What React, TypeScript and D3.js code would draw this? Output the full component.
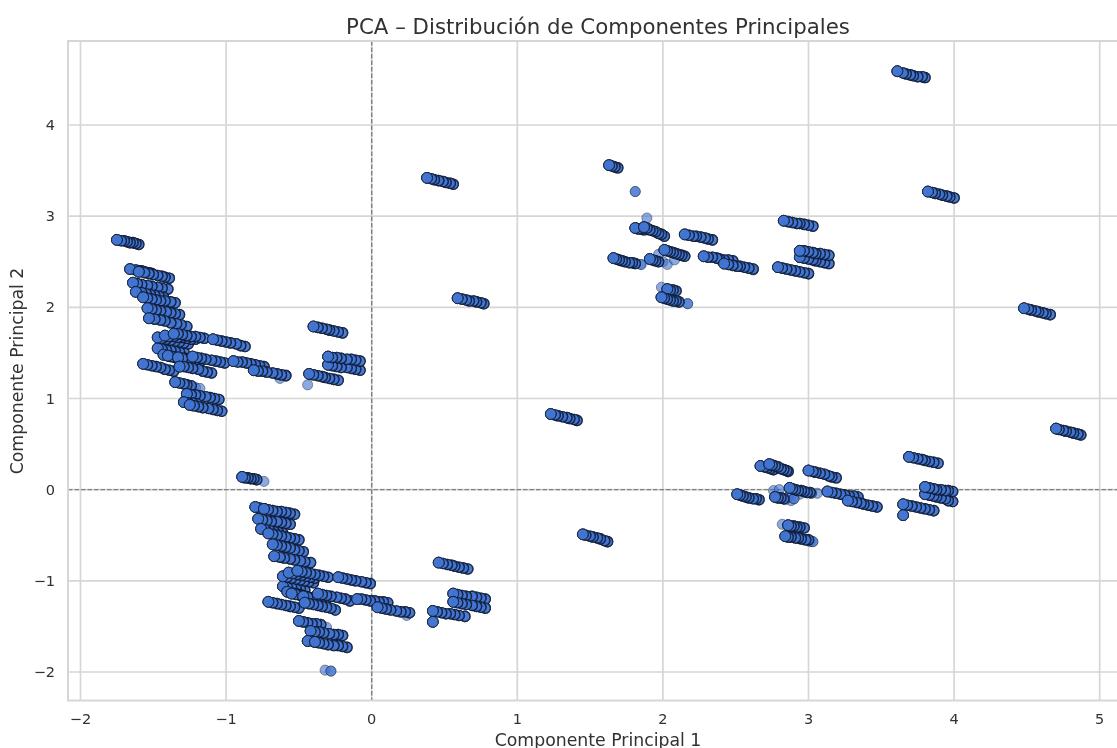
import React from "react";
import * as d3 from "d3";

type P = [number, number];

const titleText = "PCA – Distribución de Componentes Principales";
const xLabel = "Componente Principal 1";
const yLabel = "Componente Principal 2";
const xTicks = [-2, -1, 0, 1, 2, 3, 4, 5];
const yTicks = [-2, -1, 0, 1, 2, 3, 4];

const upperLeftRows: P[][] = [
  [[-1.75,2.74],[-1.72,2.73],[-1.70,2.73],[-1.68,2.72],[-1.66,2.71],[-1.64,2.71],[-1.62,2.70],[-1.60,2.69]],
  [[-1.66,2.42],[-1.62,2.41],[-1.60,2.40],[-1.58,2.40],[-1.56,2.39],[-1.53,2.38],[-1.51,2.37]],
  [[-1.60,2.39],[-1.56,2.38],[-1.53,2.37],[-1.50,2.36],[-1.47,2.35],[-1.44,2.34],[-1.42,2.33],[-1.39,2.32]],
  [[-1.64,2.27],[-1.61,2.26],[-1.58,2.25],[-1.54,2.24],[-1.51,2.23],[-1.47,2.22],[-1.44,2.21],[-1.40,2.20]],
  [[-1.62,2.17],[-1.58,2.16],[-1.55,2.15],[-1.52,2.14],[-1.49,2.13],[-1.46,2.12],[-1.43,2.11]],
  [[-1.57,2.11],[-1.54,2.10],[-1.51,2.09],[-1.48,2.08],[-1.45,2.07],[-1.42,2.07],[-1.38,2.06],[-1.35,2.05]],
  [[-1.54,1.99],[-1.51,1.98],[-1.48,1.97],[-1.45,1.96],[-1.41,1.95],[-1.38,1.94],[-1.35,1.93],[-1.32,1.92]],
  [[-1.53,1.88],[-1.49,1.87],[-1.45,1.86],[-1.42,1.85],[-1.38,1.83],[-1.34,1.82],[-1.31,1.81],[-1.27,1.79]],
  [[-1.47,1.55],[-1.44,1.54],[-1.41,1.53],[-1.38,1.53],[-1.35,1.52],[-1.32,1.51],[-1.29,1.51]],
  [[-1.47,1.67],[-1.44,1.66],[-1.41,1.65],[-1.38,1.64],[-1.35,1.63],[-1.32,1.62],[-1.29,1.61],[-1.26,1.60]],
  [[-1.42,1.69],[-1.39,1.68],[-1.36,1.68],[-1.33,1.67],[-1.30,1.67],[-1.27,1.66],[-1.24,1.65],[-1.21,1.65]],
  [[-1.36,1.71],[-1.33,1.71],[-1.30,1.70],[-1.27,1.69],[-1.24,1.68],[-1.21,1.68],[-1.18,1.67],[-1.15,1.66]],
  [[-1.09,1.65],[-1.06,1.64],[-1.03,1.63],[-1.00,1.62],[-0.97,1.61],[-0.93,1.60],[-0.90,1.58],[-0.87,1.57]],
  [[-1.43,1.48],[-1.40,1.47],[-1.38,1.46],[-1.35,1.45],[-1.33,1.44]],
  [[-1.40,1.47],[-1.37,1.46],[-1.34,1.45],[-1.31,1.44],[-1.28,1.44],[-1.25,1.43]],
  [[-1.33,1.45],[-1.30,1.44],[-1.27,1.43],[-1.24,1.42],[-1.21,1.41],[-1.18,1.40]],
  [[-1.57,1.38],[-1.54,1.37],[-1.51,1.36],[-1.48,1.35],[-1.45,1.34],[-1.42,1.32],[-1.39,1.31],[-1.36,1.30]],
  [[-1.32,1.35],[-1.29,1.35],[-1.26,1.34],[-1.23,1.33],[-1.19,1.32],[-1.16,1.30],[-1.13,1.29],[-1.10,1.28]],
  [[-1.23,1.46],[-1.20,1.45],[-1.17,1.44],[-1.14,1.43],[-1.10,1.42],[-1.07,1.41],[-1.04,1.40],[-1.01,1.39]],
  [[-0.95,1.41],[-0.92,1.40],[-0.89,1.40],[-0.86,1.39],[-0.83,1.38],[-0.80,1.37],[-0.77,1.36],[-0.74,1.35]],
  [[-0.81,1.31],[-0.78,1.30],[-0.75,1.30],[-0.72,1.29],[-0.68,1.28],[-0.65,1.27],[-0.62,1.26],[-0.59,1.25]],
  [[-1.35,1.18],[-1.32,1.17],[-1.29,1.16],[-1.27,1.15],[-1.24,1.14]],
  [[-1.27,1.05],[-1.24,1.04],[-1.21,1.04],[-1.18,1.03],[-1.14,1.02],[-1.11,1.01],[-1.08,1.00],[-1.05,0.99]],
  [[-1.29,0.96],[-1.26,0.95],[-1.23,0.95],[-1.20,0.94]],
  [[-1.25,0.93],[-1.22,0.92],[-1.19,0.91],[-1.16,0.90],[-1.12,0.89],[-1.09,0.88],[-1.06,0.87],[-1.03,0.86]],
  [[-0.40,1.79],[-0.37,1.78],[-0.34,1.77],[-0.31,1.76],[-0.29,1.75],[-0.26,1.74],[-0.23,1.73],[-0.20,1.72]],
  [[-0.43,1.27],[-0.40,1.26],[-0.37,1.25],[-0.34,1.24],[-0.32,1.23],[-0.29,1.22],[-0.26,1.21],[-0.23,1.20]],
  [[-0.30,1.37],[-0.27,1.36],[-0.24,1.35],[-0.21,1.34],[-0.17,1.34],[-0.14,1.33],[-0.11,1.32],[-0.08,1.31]],
  [[-0.30,1.46],[-0.27,1.45],[-0.24,1.45],[-0.21,1.44],[-0.17,1.43],[-0.14,1.43],[-0.11,1.42],[-0.08,1.41]],
];

const lowerLeftRows: P[][] = [
  [[-0.89,0.14],[-0.87,0.13],[-0.85,0.13],[-0.83,0.12],[-0.81,0.12],[-0.79,0.11]],
  [[-0.80,-0.19],[-0.77,-0.20],[-0.74,-0.21]],
  [[-0.74,-0.21],[-0.71,-0.22],[-0.68,-0.23],[-0.65,-0.24],[-0.62,-0.24],[-0.59,-0.25],[-0.56,-0.26],[-0.53,-0.27]],
  [[-0.78,-0.32],[-0.75,-0.33],[-0.72,-0.34],[-0.69,-0.35],[-0.65,-0.35],[-0.62,-0.36],[-0.59,-0.37],[-0.56,-0.38]],
  [[-0.76,-0.43],[-0.73,-0.44],[-0.70,-0.45],[-0.67,-0.46],[-0.64,-0.47],[-0.61,-0.48]],
  [[-0.71,-0.48],[-0.68,-0.49],[-0.65,-0.50],[-0.62,-0.51],[-0.59,-0.52],[-0.56,-0.53],[-0.53,-0.54],[-0.50,-0.55]],
  [[-0.68,-0.60],[-0.65,-0.61],[-0.62,-0.62],[-0.59,-0.63],[-0.56,-0.64],[-0.53,-0.66],[-0.50,-0.67],[-0.47,-0.68]],
  [[-0.67,-0.73],[-0.63,-0.74],[-0.60,-0.75],[-0.56,-0.76],[-0.53,-0.77],[-0.49,-0.78],[-0.46,-0.79],[-0.42,-0.80]],
  [[-0.61,-1.06],[-0.58,-1.07],[-0.55,-1.07],[-0.52,-1.08],[-0.49,-1.09],[-0.46,-1.10]],
  [[-0.61,-0.95],[-0.58,-0.96],[-0.55,-0.97],[-0.52,-0.98],[-0.49,-0.99],[-0.46,-1.00],[-0.43,-1.01],[-0.40,-1.02]],
  [[-0.57,-0.91],[-0.54,-0.92],[-0.51,-0.93],[-0.48,-0.94],[-0.45,-0.95],[-0.42,-0.96],[-0.39,-0.97]],
  [[-0.51,-0.89],[-0.48,-0.90],[-0.45,-0.91],[-0.42,-0.92],[-0.39,-0.93],[-0.36,-0.94],[-0.33,-0.95],[-0.30,-0.96]],
  [[-0.23,-0.96],[-0.20,-0.97],[-0.17,-0.98],[-0.14,-0.99],[-0.11,-1.00],[-0.07,-1.01],[-0.04,-1.02],[-0.01,-1.03]],
  [[-0.58,-1.12],[-0.55,-1.13],[-0.52,-1.14],[-0.49,-1.15]],
  [[-0.55,-1.14],[-0.52,-1.15],[-0.49,-1.16],[-0.46,-1.17],[-0.43,-1.18],[-0.40,-1.19]],
  [[-0.47,-1.17],[-0.44,-1.18],[-0.41,-1.19],[-0.38,-1.20],[-0.35,-1.21],[-0.32,-1.22]],
  [[-0.37,-1.14],[-0.34,-1.15],[-0.31,-1.16],[-0.28,-1.17],[-0.24,-1.18],[-0.21,-1.19],[-0.18,-1.20],[-0.15,-1.22]],
  [[-0.71,-1.23],[-0.68,-1.24],[-0.65,-1.25],[-0.62,-1.26],[-0.59,-1.27],[-0.56,-1.28],[-0.53,-1.29],[-0.50,-1.30]],
  [[-0.46,-1.24],[-0.43,-1.25],[-0.40,-1.26],[-0.37,-1.27],[-0.34,-1.28],[-0.31,-1.29],[-0.28,-1.30],[-0.25,-1.32]],
  [[-0.10,-1.20],[-0.07,-1.20],[-0.04,-1.21],[-0.01,-1.22],[0.02,-1.22],[0.05,-1.23],[0.08,-1.23],[0.11,-1.24]],
  [[0.04,-1.29],[0.07,-1.30],[0.10,-1.31],[0.13,-1.32],[0.17,-1.33],[0.20,-1.34],[0.23,-1.34],[0.26,-1.35]],
  [[-0.50,-1.44],[-0.47,-1.45],[-0.44,-1.46],[-0.41,-1.47],[-0.38,-1.47],[-0.35,-1.48]],
  [[-0.42,-1.55],[-0.39,-1.56],[-0.36,-1.56],[-0.33,-1.57],[-0.29,-1.58],[-0.26,-1.59],[-0.23,-1.59],[-0.20,-1.60]],
  [[-0.44,-1.66],[-0.41,-1.66],[-0.39,-1.67]],
  [[-0.39,-1.67],[-0.36,-1.68],[-0.33,-1.69],[-0.30,-1.70],[-0.26,-1.71],[-0.23,-1.71],[-0.20,-1.72],[-0.17,-1.73]],
  [[0.46,-0.80],[0.49,-0.81],[0.52,-0.82],[0.55,-0.83],[0.57,-0.84],[0.60,-0.85],[0.63,-0.86],[0.66,-0.87]],
  [[0.42,-1.33],[0.45,-1.34],[0.48,-1.35],[0.51,-1.36],[0.54,-1.36],[0.57,-1.37],[0.60,-1.38],[0.64,-1.39]],
  [[0.56,-1.14],[0.59,-1.15],[0.62,-1.16],[0.65,-1.17],[0.69,-1.17],[0.72,-1.18],[0.75,-1.19],[0.78,-1.20]],
  [[0.56,-1.23],[0.59,-1.24],[0.62,-1.25],[0.65,-1.26],[0.69,-1.27],[0.72,-1.28],[0.75,-1.29],[0.78,-1.30]],
  [[0.42,-1.45]],
];

const centerRows: P[][] = [
  [[0.38,3.42],[0.41,3.41],[0.43,3.40],[0.46,3.39],[0.49,3.38],[0.51,3.37],[0.54,3.36],[0.56,3.35]],
  [[0.59,2.10],[0.62,2.09],[0.65,2.08],[0.67,2.07],[0.70,2.07],[0.72,2.06],[0.75,2.05],[0.77,2.04]],
  [[1.23,0.83],[1.26,0.82],[1.28,0.81],[1.31,0.80],[1.34,0.79],[1.36,0.78],[1.39,0.77],[1.41,0.76]],
  [[1.45,-0.49],[1.47,-0.50],[1.50,-0.51],[1.52,-0.52],[1.55,-0.53],[1.57,-0.54],[1.60,-0.56],[1.62,-0.57]],
];

const upperRightRows: P[][] = [
  [[1.63,3.56],[1.65,3.55],[1.67,3.54],[1.69,3.53]],
  [[1.81,2.87],[1.83,2.86],[1.85,2.86],[1.87,2.85]],
  [[1.87,2.88],[1.89,2.87],[1.91,2.85],[1.93,2.84],[1.95,2.83],[1.97,2.81],[1.99,2.80],[2.01,2.78]],
  [[2.15,2.80],[2.18,2.79],[2.21,2.78],[2.23,2.78],[2.26,2.77],[2.29,2.76],[2.31,2.75],[2.34,2.74]],
  [[1.66,2.54],[1.68,2.53],[1.70,2.52],[1.72,2.51],[1.74,2.50],[1.77,2.49],[1.79,2.49],[1.81,2.48]],
  [[1.91,2.53],[1.93,2.52],[1.95,2.51],[1.97,2.50]],
  [[2.01,2.63],[2.03,2.62],[2.05,2.61],[2.07,2.60],[2.09,2.59],[2.11,2.58],[2.13,2.57],[2.15,2.56]],
  [[2.28,2.56],[2.31,2.55],[2.34,2.55],[2.37,2.54],[2.39,2.53],[2.42,2.52],[2.45,2.52],[2.48,2.51]],
  [[2.42,2.48],[2.45,2.47],[2.48,2.46],[2.51,2.45],[2.53,2.45],[2.56,2.44],[2.59,2.43],[2.62,2.42]],
  [[2.03,2.20],[2.05,2.19],[2.07,2.19],[2.09,2.18]],
  [[1.99,2.11],[2.01,2.10],[2.03,2.09],[2.05,2.08],[2.07,2.07],[2.09,2.07],[2.11,2.06]],
  [[2.83,2.95],[2.86,2.94],[2.89,2.93],[2.92,2.92],[2.94,2.92],[2.97,2.91],[3.00,2.90],[3.03,2.89]],
  [[2.79,2.44],[2.82,2.43],[2.85,2.42],[2.88,2.41],[2.91,2.40],[2.94,2.39],[2.97,2.38],[3.00,2.37]],
  [[2.94,2.55],[2.97,2.54],[3.00,2.53],[3.03,2.52],[3.05,2.51],[3.08,2.50],[3.11,2.49],[3.14,2.48]],
  [[2.94,2.62],[2.97,2.62],[3.00,2.61],[3.03,2.60],[3.05,2.59],[3.08,2.59],[3.11,2.58],[3.14,2.57]],
  [[3.61,4.59],[3.65,4.57],[3.67,4.56],[3.70,4.55],[3.72,4.54],[3.75,4.53],[3.78,4.53],[3.80,4.52]],
  [[3.82,3.27],[3.85,3.26],[3.87,3.25],[3.90,3.24],[3.92,3.23],[3.95,3.22],[3.97,3.21],[4.00,3.20]],
  [[4.48,1.99],[4.51,1.98],[4.53,1.97],[4.56,1.96],[4.58,1.95],[4.61,1.94],[4.63,1.93],[4.66,1.92]],
];

const lowerRightRows: P[][] = [
  [[4.70,0.67],[4.72,0.66],[4.75,0.65],[4.77,0.64],[4.80,0.63],[4.82,0.62],[4.85,0.61],[4.87,0.60]],
  [[2.67,0.26],[2.70,0.25],[2.72,0.24],[2.74,0.23],[2.76,0.22]],
  [[2.73,0.28],[2.75,0.27],[2.77,0.26],[2.79,0.25],[2.81,0.23],[2.83,0.22],[2.85,0.21],[2.86,0.20]],
  [[3.00,0.21],[3.03,0.20],[3.05,0.19],[3.08,0.18],[3.11,0.17],[3.14,0.15],[3.16,0.14],[3.19,0.13]],
  [[2.51,-0.05],[2.53,-0.06],[2.55,-0.07],[2.57,-0.08],[2.59,-0.09],[2.62,-0.10],[2.64,-0.10],[2.66,-0.11]],
  [[2.77,-0.08],[2.79,-0.09],[2.81,-0.09],[2.83,-0.10]],
  [[2.87,0.02],[2.89,0.01],[2.91,0.00],[2.93,-0.01],[2.95,-0.01],[2.97,-0.02],[2.99,-0.03],[3.01,-0.03]],
  [[3.13,-0.02],[3.16,-0.03],[3.19,-0.04],[3.22,-0.05],[3.25,-0.06],[3.28,-0.07],[3.31,-0.07],[3.34,-0.08]],
  [[3.27,-0.12],[3.30,-0.13],[3.33,-0.14],[3.36,-0.15],[3.38,-0.16],[3.41,-0.17],[3.44,-0.18],[3.47,-0.19]],
  [[3.69,0.36],[3.72,0.35],[3.75,0.34],[3.78,0.33],[3.80,0.32],[3.83,0.31],[3.86,0.30],[3.89,0.29]],
  [[3.65,-0.16],[3.68,-0.17],[3.71,-0.18],[3.74,-0.19],[3.77,-0.20],[3.80,-0.21],[3.83,-0.22],[3.86,-0.23]],
  [[3.80,-0.05],[3.83,-0.06],[3.86,-0.07],[3.88,-0.08],[3.91,-0.09],[3.94,-0.10],[3.96,-0.12],[3.99,-0.13]],
  [[3.80,0.03],[3.83,0.02],[3.86,0.01],[3.88,0.00],[3.91,-0.00],[3.94,-0.01],[3.96,-0.01],[3.99,-0.02]],
  [[3.65,-0.28]],
  [[2.86,-0.39],[2.88,-0.40],[2.90,-0.40],[2.92,-0.41],[2.94,-0.41],[2.97,-0.42]],
  [[2.84,-0.51],[2.86,-0.52],[2.88,-0.52],[2.91,-0.53],[2.93,-0.53],[2.95,-0.54],[2.98,-0.55],[3.00,-0.55]],
];

// Points seen once (pale) and points seen a couple of times (mid blue).
const palePoints: P[] = [
  [1.89,2.98],[-0.74,0.09],[-0.44,1.15],[-0.63,1.22],[-1.21,1.12],[-1.18,1.11],[-0.32,-1.98],
  [0.24,-1.38],[-0.31,-1.51],[1.99,2.22],[2.00,2.50],[2.03,2.47],[1.97,2.58],[2.08,2.52],[2.62,2.41],
  [2.82,-0.38],[2.76,-0.01],[2.80,0.00],[3.06,-0.04],[2.94,-0.05],[2.88,-0.12],[2.84,-0.11],[3.47,-0.19],
  [-0.59,1.26],[3.01,-0.57],
];
const midPoints: P[] = [
  [1.81,3.27],[1.85,2.47],[2.17,2.04],[-0.28,-1.99],[3.03,-0.57],[2.86,-0.08],[2.90,-0.10],[3.02,-0.04],
];

const W = 1117, H = 748;
const axLeft = 68, axRight = 1128, axTop = 41, axBottom = 700.5;
const ink = "#303030";
const gridColor = "#d6d6d6";
const pointColor = "#4274d2";

const x = d3.scaleLinear().domain([-2, 5]).range([80.5, 1099.7]);
const y = d3.scaleLinear().domain([-2, 4]).range([672, 125]);

const Dot = ({ p, n, sw, edge, edgeAlpha, r = 5.1 }: { p: P; n: number; sw: number; edge: string; edgeAlpha: number; r?: number }) => (
  <>
    {d3.range(n).map((i) => (
      <circle key={i} cx={x(p[0])} cy={y(p[1])} r={r} fill={pointColor} fillOpacity={0.62} stroke={edge} strokeOpacity={edgeAlpha} strokeWidth={sw} />
    ))}
  </>
);

export default function App() {
  const rows = [...upperLeftRows, ...lowerLeftRows, ...centerRows, ...upperRightRows, ...lowerRightRows];
  return (
    <svg width={W} height={H} viewBox={`0 0 ${W} ${H}`} style={{ position: "absolute", left: 0, top: 0, display: "block", background: "#fff", fontFamily: "'DejaVu Sans'" }}>
      <defs>
        <filter id="soft" x="-5%" y="-5%" width="110%" height="110%">
          <feGaussianBlur stdDeviation="0.5" />
        </filter>
      </defs>
      <g filter="url(#soft)">
        {xTicks.map((t) => (
          <line key={t} x1={x(t)} x2={x(t)} y1={axTop} y2={axBottom} stroke={gridColor} strokeWidth={1.7} />
        ))}
        {yTicks.map((t) => (
          <line key={t} x1={axLeft} x2={axRight} y1={y(t)} y2={y(t)} stroke={gridColor} strokeWidth={1.7} />
        ))}
        <line x1={x(0)} x2={x(0)} y1={axTop} y2={axBottom} stroke="#808080" strokeWidth={1.4} strokeDasharray="4.5 2" />
        <line x1={axLeft} x2={axRight} y1={y(0)} y2={y(0)} stroke="#808080" strokeWidth={1.4} strokeDasharray="4.5 2" />
        <rect x={axLeft} y={axTop} width={axRight - axLeft} height={axBottom - axTop} fill="none" stroke={gridColor} strokeWidth={2} />

        {palePoints.map((p, i) => <Dot key={`pale${i}`} p={p} n={1} sw={0.8} edge="#000" edgeAlpha={0.45} />)}
        {midPoints.map((p, i) => <Dot key={`mid${i}`} p={p} n={2} sw={0.8} edge="#000" edgeAlpha={0.4} />)}
        {rows.map((row, r) => (
          <g key={r}>
            {[...row].reverse().map((p, i) =>
              i === row.length - 1 ? (
                <Dot key={i} p={p} n={4} sw={1} edge="#111a2b" edgeAlpha={0.6} r={5.4} />
              ) : (
                <Dot key={i} p={p} n={3} sw={1.35} edge="#0f1a30" edgeAlpha={0.62} />
              )
            )}
          </g>
        ))}

        {xTicks.map((t) => (
          <text key={t} x={x(t)} y={724} textAnchor="middle" fontSize={14.5} fill={ink}>{d3.format("d")(t).replace("-", "−")}</text>
        ))}
        {yTicks.map((t) => (
          <text key={t} x={55} y={y(t) + 5} textAnchor="end" fontSize={14.5} fill={ink}>{d3.format("d")(t).replace("-", "−")}</text>
        ))}
        <text x={598} y={33.5} textAnchor="middle" fontSize={21.3} fill={ink}>{titleText}</text>
        <text x={598} y={745.5} textAnchor="middle" fontSize={17.3} fill={ink}>{xLabel}</text>
        <text transform={`translate(23,371) rotate(-90)`} textAnchor="middle" fontSize={17.3} fill={ink}>{yLabel}</text>
      </g>
    </svg>
  );
}
